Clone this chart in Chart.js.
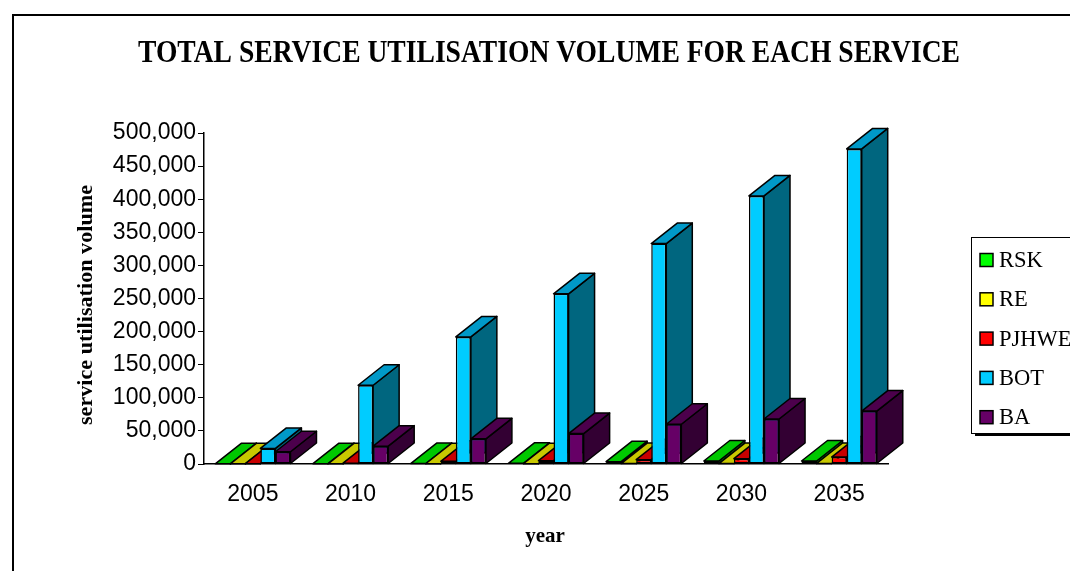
<!DOCTYPE html>
<html>
<head>
<meta charset="utf-8">
<script src="https://cdn.jsdelivr.net/npm/chart.js@4.4.0/dist/chart.umd.min.js"></script>
<style>
  html, body { margin: 0; padding: 0; background: #fff; }
  canvas { display: block; }
</style>
</head>
<body>
<canvas id="myChart" width="1070" height="571"></canvas>
<script>
// data
const years = ['2005', '2010', '2015', '2020', '2025', '2030', '2035'];
const rsk = [300, 500, 700, 1000, 3500, 4500, 4500];
const re = [200, 300, 400, 500, 600, 700, 800];
const pjhwe = [500, 1200, 4000, 5000, 6500, 8000, 10500];
const bot = [23500, 119000, 192000, 257000, 333000, 405000, 476000];
const ba = [18500, 27000, 38000, 46000, 60000, 68000, 80000];
const seriesNames = ['RSK', 'RE', 'PJHWE', 'BOT', 'BA'];
const yTicks = [0, 50000, 100000, 150000, 200000, 250000, 300000, 350000, 400000, 450000, 500000];

// colours: front, top, side
const frontColors = ['#00ff00', '#ffff00', '#ff0000', '#00ccff', '#660066'];
const topColors = ['#00c800', '#c8c800', '#c80000', '#0099c8', '#4c004c'];
const sideColors = ['#009600', '#969600', '#960000', '#00667f', '#330033'];

const DX = 26, DY = -20.5;
const SANS = "'Liberation Sans', Arial, sans-serif";
const SERIF = "'Liberation Serif', 'Times New Roman', serif";

function poly(ctx, pts, fill) {
    ctx.beginPath();
    ctx.moveTo(pts[0][0], pts[0][1]);
    for (let k = 1; k < pts.length; k++) ctx.lineTo(pts[k][0], pts[k][1]);
    ctx.closePath();
    ctx.fillStyle = fill;
    ctx.fill();
    ctx.stroke();
}

function drawFitted(ctx, text, x, y, font, width, angle) {
    ctx.save();
    ctx.font = font;
    ctx.textAlign = 'center';
    ctx.textBaseline = 'middle';
    ctx.fillStyle = '#000';
    ctx.translate(x, y);
    if (angle) ctx.rotate(angle);
    const w = ctx.measureText(text).width;
    if (width) ctx.scale(width / w, 1);
    ctx.fillText(text, 0, 0);
    ctx.restore();
}

// draws the depth (top + side faces) behind the front faces chart.js paints
const bar3d = {
    id: 'bar3d',
    beforeDatasetsDraw(chart) {
        const ctx = chart.ctx;
        const bars = [];
        chart.data.datasets.forEach((ds, i) => {
            chart.getDatasetMeta(i).data.forEach(el => bars.push({el, i}));
        });
        bars.sort((a, b) => a.el.x - b.el.x);
        ctx.save();
        ctx.lineWidth = 1.5;
        ctx.strokeStyle = '#000';
        ctx.lineJoin = 'round';
        bars.forEach(({el, i}) => {
            const {x, y, base, width} = el.getProps(['x', 'y', 'base', 'width'], true);
            const l = x - width / 2, r = x + width / 2;
            poly(ctx, [[r, y], [r + DX, y + DY], [r + DX, base + DY], [r, base]], sideColors[i]);
            poly(ctx, [[l, y], [l + DX, y + DY], [r + DX, y + DY], [r, y]], topColors[i]);
        });
        ctx.restore();
    }
};

const frame = {
    id: 'frame',
    beforeDraw(chart) {
        const ctx = chart.ctx;
        ctx.save();
        ctx.fillStyle = '#fff';
        ctx.fillRect(0, 0, chart.width, chart.height);
        ctx.strokeStyle = '#000';
        ctx.lineWidth = 2;
        ctx.strokeRect(13, 15, 1100, 600);
        ctx.restore();
    },
    afterDraw(chart) {
        const ctx = chart.ctx;
        drawFitted(ctx, 'TOTAL SERVICE UTILISATION VOLUME FOR EACH SERVICE', 549, 54, 'bold 31px ' + SERIF, 822);
        drawFitted(ctx, 'year', 545, 537, 'bold 21px ' + SERIF, 0);
        drawFitted(ctx, 'service utilisation volume', 87, 305, 'bold 21px ' + SERIF, 240, -Math.PI / 2);

        // legend
        ctx.save();
        ctx.fillStyle = '#000';
        ctx.fillRect(975, 433, 100, 3);
        ctx.fillStyle = '#fff';
        ctx.fillRect(971, 237, 110, 196);
        ctx.strokeStyle = '#000';
        ctx.lineWidth = 1;
        ctx.strokeRect(971.5, 237.5, 110, 196);
        ctx.font = '22.5px ' + SERIF;
        ctx.textBaseline = 'middle';
        chart.data.datasets.forEach((ds, i) => {
            const cy = 260 + i * 39.3;
            ctx.fillStyle = ds.backgroundColor;
            ctx.fillRect(980, cy - 6.5, 13, 13);
            ctx.lineWidth = 1.5;
            ctx.strokeRect(980, cy - 6.5, 13, 13);
            ctx.fillStyle = '#000';
            ctx.fillText(ds.label, 999, cy + 1);
        });
        ctx.restore();
    }
};

const seriesData = [rsk, re, pjhwe, bot, ba];

new Chart(document.getElementById('myChart'), {
    type: 'bar',
    data: {
        labels: years,
        datasets: seriesNames.map((name, i) => ({
            label: name,
            data: seriesData[i],
            backgroundColor: frontColors[i],
            borderColor: '#000',
            borderWidth: 1.5,
            borderSkipped: false,
            barPercentage: 1,
            categoryPercentage: 0.77
        }))
    },
    options: {
        responsive: false,
        animation: false,
        layout: { padding: { top: 133, right: 182, bottom: 0, left: 0 } },
        plugins: {
            legend: { display: false },
            title: { display: false },
            tooltip: { enabled: false }
        },
        scales: {
            x: {
                grid: { display: false },
                border: { display: true, color: '#000', width: 1.5 },
                ticks: { color: '#000', font: { family: SANS, size: 23 }, padding: 9, maxRotation: 0 },
                afterFit(s) { s.height = 107; }
            },
            y: {
                min: 0,
                max: 500000,
                afterBuildTicks(s) { s.ticks = yTicks.map(v => ({value: v})); },
                grid: { drawOnChartArea: false, drawTicks: true, tickLength: 6, color: '#000' },
                border: { display: true, color: '#000', width: 1.5 },
                ticks: {
                    color: '#000',
                    font: { family: SANS, size: 23 },
                    padding: 2,
                    callback: v => v.toLocaleString('en-US')
                },
                afterFit(s) { s.width = 204; }
            }
        }
    },
    plugins: [frame, bar3d]
});
</script>
</body>
</html>
